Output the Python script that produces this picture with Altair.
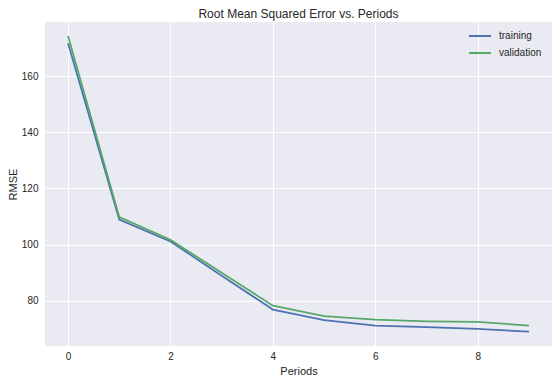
import altair as alt
import pandas as pd

periods = [0, 1, 2, 3, 4, 5, 6, 7, 8, 9]
training = [171.8, 108.9, 101.1, 88.9, 76.8, 73.0, 71.1, 70.5, 69.9, 68.9]
validation = [174.4, 109.8, 101.7, 89.9, 78.2, 74.5, 73.2, 72.6, 72.4, 71.1]

rows = []
for p, t, v in zip(periods, training, validation):
    rows.append({"Periods": p, "RMSE": t, "series": "training"})
    rows.append({"Periods": p, "RMSE": v, "series": "validation"})
df = pd.DataFrame(rows)

FONT = "Liberation Sans"
TXT = "#262626"

chart = alt.Chart(df).mark_line(strokeWidth=1.75).encode(
    x=alt.X("Periods:Q", scale=alt.Scale(domain=[-0.45, 9.45], nice=False, zero=False),
            axis=alt.Axis(values=[0, 2, 4, 6, 8], title="Periods", format="d")),
    y=alt.Y("RMSE:Q", scale=alt.Scale(domain=[63.8, 179.4], nice=False, zero=False),
            axis=alt.Axis(values=[80, 100, 120, 140, 160], title="RMSE")),
    color=alt.Color("series:N",
                    scale=alt.Scale(domain=["training", "validation"], range=["#4C72B0", "#55A868"]),
                    legend=alt.Legend(title=None, orient="none", legendX=423, legendY=2,
                                      symbolType="stroke", symbolSize=484, symbolStrokeWidth=2,
                                      labelFontSize=10, labelFont=FONT, labelColor=TXT,
                                      rowPadding=-4, labelOffset=7)),
).properties(
    width=507, height=324,
    title=alt.Title("Root Mean Squared Error vs. Periods", fontSize=12, font=FONT,
                    color=TXT, fontWeight="normal", offset=1, anchor="middle"),
    autosize=alt.AutoSizeParams(type="none"),
    padding={"left": 37, "top": 14, "right": 0, "bottom": 30},
).configure_view(
    fill="#EAEAF2", stroke=None
).configure_axis(
    grid=True, gridColor="white", gridWidth=1, domain=False, ticks=False,
    labelFont=FONT, labelFontSize=10, labelColor=TXT,
    titleFont=FONT, titleFontSize=11, titleColor=TXT, titleFontWeight="normal",
).configure_axisX(labelPadding=5, titlePadding=4).configure_axisY(labelPadding=7, titlePadding=3)

chart.save("out.html", embed_options={"renderer": "svg", "actions": False})
